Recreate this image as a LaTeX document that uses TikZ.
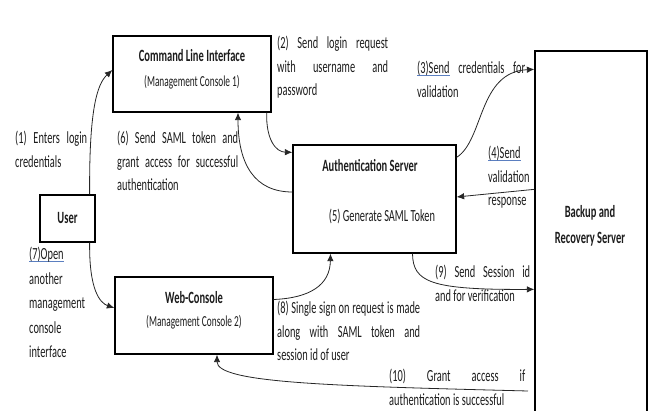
\documentclass[tikz,border=0pt]{standalone}
\usepackage{fontspec}
\setmainfont{Carlito}[FakeStretch=0.61]
\usetikzlibrary{arrows.meta}
\definecolor{ink}{HTML}{1C1C1C}
\definecolor{ulblue}{HTML}{5B7FC0}
\newcommand\blueul[1]{\setbox0\hbox{#1}\rlap{\color{ulblue}\rule[-2.5pt]{\wd0}{0.7pt}}\box0\relax}
\newcommand\jl[2]{\makebox[#1][s]{#2}}
\begin{document}
\begin{tikzpicture}[x=1pt,y=-1pt,
  box/.style={draw=black, line width=1.3pt, inner sep=0pt},
  conn/.style={draw=black!85, line width=0.8pt, -{Latex[length=7.5pt,width=6.5pt]}},
  txt/.style={font=\fontsize{17}{23.5}\selectfont, text=ink, inner sep=0pt, anchor=north west, align=left},
  ttl/.style={font=\fontsize{17.2}{26}\selectfont\bfseries, text=ink, inner sep=0pt, align=center},
  sub/.style={font=\fontsize{15.3}{18}\selectfont, text=ink, inner sep=0pt},
]
\clip (0,0) rectangle (649,411);
% boxes
\node[box, minimum width=158pt, minimum height=76pt] (cli) at (192,74) {};
\node[box, minimum width=55pt, minimum height=47pt] (user) at (67.5,218.5) {};
\node[box, minimum width=158pt, minimum height=77pt] (web) at (194,315.5) {};
\node[box, minimum width=163pt, minimum height=108pt] (auth) at (374.5,199) {};
\node[box, minimum width=112pt, minimum height=372pt] (backup) at (591,237) {};
% box texts
\node[ttl] (clit) at (192,56) {Command Line Interface};
\node[sub] (clis) at (192,82) {(Management Console 1)};
\node[ttl] (usert) at (67.5,218) {User};
\node[ttl] (webt) at (194,298) {Web-Console};
\node[sub] (webs) at (194,322) {(Management Console 2)};
\node[ttl] (autht) at (370,166) {Authentication Server};
\node[txt, anchor=center] (auths) at (382,216) {(5) Generate SAML Token};
\node[ttl] (backt) at (590,226) {Backup and\\Recovery Server};
% labels
\node[txt] (l1) at (15,131) {\jl{72pt}{(1) Enters login}\\credentials};
\node[txt] (l2) at (277,36) {\jl{111pt}{(2) Send login request}\\\jl{111pt}{with username and}\\password};
\node[txt] (l3) at (417,61) {\jl{108pt}{\blueul{(3)Send} credentials for}\\validation};
\node[txt] (l4) at (488,146) {\blueul{(4)Send}\\validation\\response};
\node[txt] (l6) at (117,131) {\jl{121pt}{(6) Send SAML token and}\\\jl{121pt}{grant access for successful}\\authentication};
\node[txt, font=\fontsize{17}{24.5}\selectfont] (l7) at (29,247) {\blueul{(7)Open}\\another\\management\\console\\interface};
\node[txt] (l8) at (277,301) {\jl{143pt}{(8) Single sign on request is made}\\\jl{143pt}{along with SAML token and}\\session id of user};
\node[txt] (l9) at (435,265) {\jl{95pt}{(9) Send Session id}\\and for verification};
\node[txt] (l10) at (389,369) {\jl{136pt}{(10) Grant access if}\\authentication is successful};
% connectors
\coordinate (c10) at (528,391);
\draw[conn] ([xshift=-6pt]user.north east) .. controls (89,110) and (97,84) .. ([yshift=4pt]cli.west);
\draw[conn] ([xshift=-5pt]cli.south east) .. controls (266,140) and (276,152) .. ([yshift=-8pt]auth.north west);
\draw[conn] ([yshift=7pt]auth.west) .. controls (255,192) and (238,165) .. ([xshift=46pt]cli.south);
\draw[conn] ([yshift=-13pt]auth.north east) .. controls (484,140) and (478,72) .. ([yshift=-19pt]backup.north west);
\draw[conn] ([yshift=-139pt]backup.north west) -- ([yshift=2pt]auth.east);
\draw[conn] ([xshift=38pt]auth.south) .. controls (413,282) and (430,290) .. ([yshift=-239pt]backup.north west);
\draw[conn] ([xshift=-6pt]user.south east) .. controls (89,290) and (100,303) .. ([yshift=7.5pt]web.west);
\draw[conn] ([yshift=16pt]web.east) .. controls (310,298) and (330,285) .. ([xshift=-44pt]auth.south);
\draw[conn] (c10) .. controls (330,386) and (217,383) .. ([xshift=23pt]web.south);
\end{tikzpicture}
\end{document}
